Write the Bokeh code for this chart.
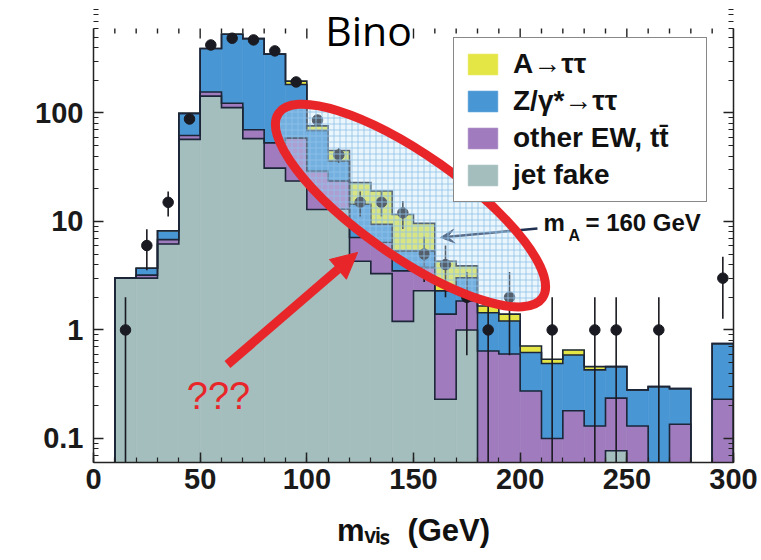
import numpy as np
from bokeh.plotting import figure
from bokeh.models import (LogAxis, FixedTicker, SingleIntervalTicker,
                          CustomJSTickFormatter, Legend, LegendItem, Label,
                          Arrow, NormalHead, VeeHead)
from bokeh.embed import file_html
from bokeh.resources import INLINE

# ---- data: visible di-tau mass, 10 GeV bins from 10 to 300 GeV ----
bin_low = np.arange(10, 300, 10)
bin_width = 10

jet_fake = [3.0, 3.0, 6.2, 57, 143, 112, 58, 31, 23.6, 12.9, 13.0, 4.3, 3.3, 1.2,
            2.3, 0.23, 1.0, 0, 0, 0, 0, 0, 0, 0.077, 0, 0, 0, 0, 0]
other_ew = [0, 0.2, 0.6, 5, 13, 11, 12, 22, 35, 16, 10.6, 2.8, 3.1, 2.3,
            1.45, 1.17, 0.85, 0.64, 0.60, 0.274, 0.10, 0.18, 0.13, 0.158, 0.13, 0, 0.135, 0, 0.23]
z_tautau = [0, 0.5, 1.4, 37, 236, 408, 414, 295, 124, 40, 12.4, 7.3, 3.0, 1.85,
            1.6, 0.89, 1.18, 0.80, 0.61, 0.346, 0.39, 0.408, 0.298, 0.224, 0.15, 0.30, 0.153, 0, 0.518]
a_tautau = [0, 0, 0, 0, 0, 0, 0, 0, 14, 7, 9, 8.4, 9.7, 6.25,
            4.25, 2.0, 0.86, 0.22, 0.19, 0.09, 0.047, 0.066, 0.031, 0, 0, 0, 0, 0, 0]
data_counts = [1, 6, 15, 88, 423, 488, 471, 373, 193, 86, 41, 15, 15, 12,
               5, 4, 2, 1, 2, 0, 1, 0, 1, 1, 0, 1, 0, 0, 3]

series_labels = ["jet fake", "other EW, tt\u0304", "Z/\u03b3*\u2192\u03c4\u03c4", "A\u2192\u03c4\u03c4"]
series_colors = ["#a3bebd", "#a07cbe", "#4896d4", "#e4e646"]

y_major = [0.1, 1, 10, 100]
y_major_labels = ["0.1", "1", "10", "100"]
y_minor = [m * 10.0 ** e for e in range(-2, 3) for m in range(2, 10)]

X_MIN, X_MAX = 0, 300
Y_MIN, Y_AXIS_TOP, Y_MAX = 0.06, 600, 1087   # axes end at 600; the space above holds the title
W, H = 761, 560
BORDER_L, BORDER_R, BORDER_T, BORDER_B = 93, 28, 0, 98

LINE = "#1c2638"
AXIS = "#222222"
RED = "#e8262a"
FLOOR = 1e-4

p = figure(width=W, height=H, x_range=(X_MIN, X_MAX), y_range=(Y_MIN, Y_MAX),
           y_axis_type="log", output_backend="svg", toolbar_location=None,
           min_border_left=BORDER_L, min_border_right=BORDER_R,
           min_border_top=BORDER_T, min_border_bottom=BORDER_B,
           background_fill_color="white", border_fill_color="white")
p.outline_line_color = None
p.grid.visible = False

# ---- axes ----
x_ticker = SingleIntervalTicker(interval=50, num_minor_ticks=5)
y_ticker = FixedTicker(ticks=y_major, minor_ticks=y_minor)
y_fmt = CustomJSTickFormatter(args=dict(major_vals=y_major, major_text=y_major_labels),
                              code="const i = major_vals.indexOf(tick); return i >= 0 ? major_text[i] : '';")
blank = CustomJSTickFormatter(code="return '';")

def style_axis(ax):
    ax.axis_line_color = AXIS
    ax.axis_line_width = 1.5
    ax.major_tick_line_color = AXIS
    ax.minor_tick_line_color = AXIS
    ax.major_tick_line_width = 1.5
    ax.minor_tick_line_width = 1.2
    ax.major_tick_in = 10
    ax.major_tick_out = 0
    ax.minor_tick_in = 5
    ax.minor_tick_out = 0
    ax.major_label_text_font = "Liberation Sans"
    ax.major_label_text_font_style = "bold"
    ax.major_label_text_font_size = "29px"
    ax.major_label_text_color = "#1a1a1a"

xa = p.xaxis[0]
xa.ticker = x_ticker
style_axis(xa)
xa.major_label_standoff = 6
xa.axis_label = "m\u1d65\u1d62\u209b\u00a0\u00a0(GeV)"
xa.axis_label_text_font = "Liberation Sans"
xa.axis_label_text_font_style = "bold"
xa.axis_label_text_font_size = "31px"
xa.axis_label_text_color = "#111111"
xa.axis_label_standoff = 21

ya = p.yaxis[0]
ya.ticker = y_ticker
ya.formatter = y_fmt
ya.bounds = (Y_MIN, Y_AXIS_TOP)
style_axis(ya)
ya.major_label_standoff = 10

right_ax = LogAxis(ticker=y_ticker, formatter=blank, bounds=(Y_MIN, Y_AXIS_TOP))
style_axis(right_ax)
p.add_layout(right_ax, "right")

# tick marks along the upper edge of the axes box (pointing down from y = 600)
frame_h = H - BORDER_T - BORDER_B
decade_px = frame_h / np.log10(Y_MAX / Y_MIN)
top_tick_x = np.arange(X_MIN, X_MAX + 1, 10)
top_tick_len = np.where(top_tick_x % 50 == 0, 10, 5)
p.segment(x0=top_tick_x, y0=np.full(len(top_tick_x), Y_AXIS_TOP),
          x1=top_tick_x, y1=Y_AXIS_TOP * 10.0 ** (-top_tick_len / decade_px),
          line_color=AXIS, line_width=1.4)

# ---- stacked histogram ----
lo = bin_low
hi = bin_low + bin_width
edges = np.append(lo, hi[-1])
stack = np.cumsum(np.array([jet_fake, other_ew, z_tautau, a_tautau], dtype=float), axis=0)

renderers = []
prev = np.zeros(len(lo))
for level, color in zip(stack, series_colors):
    r = p.quad(left=lo, right=hi, bottom=np.maximum(prev, FLOOR),
               top=np.maximum(level, FLOOR), fill_color=color,
               line_color=color, line_width=0.6)
    renderers.append(r)
    prev = level

for level in stack:
    xs = np.repeat(edges, 2)
    ys = np.concatenate([[FLOOR], np.repeat(np.maximum(level, FLOOR), 2), [FLOOR]])
    p.line(xs, ys, line_color=LINE, line_width=1.6, line_join="miter")

# ---- data points with sqrt(N) errors ----
counts = np.array(data_counts, dtype=float)
mask = counts > 0
cx = (lo + bin_width / 2)[mask]
cn = counts[mask]
err = np.sqrt(cn)
p.segment(x0=cx, y0=np.maximum(cn - err, FLOOR), x1=cx, y1=cn + err,
          line_color="#1a1a22", line_width=1.6)
p.scatter(cx, cn, size=10.5, fill_color="#1a1a22", line_color="#1a1a22")

# ---- highlighted region ----
p.ellipse(x=[148.6], y=[14.0], width=322, height=102,
          width_units="screen", height_units="screen",
          angle=-35, angle_units="deg",
          fill_color="#c6e2f7", fill_alpha=0.35,
          hatch_pattern="+", hatch_scale=6, hatch_color="#8ec0e8",
          hatch_alpha=0.8, hatch_weight=1,
          line_color=RED, line_width=9, level="overlay")

# ---- legend ----
legend = Legend(items=[LegendItem(label=series_labels[k], renderers=[renderers[k]])
                       for k in (3, 2, 1, 0)],
                location=(360, 260), orientation="vertical",
                glyph_width=37, glyph_height=26, label_width=183,
                label_standoff=12, spacing=5, padding=10, margin=0,
                label_text_font="Liberation Sans", label_text_font_style="bold",
                label_text_font_size="28px", label_text_color="#111111",
                border_line_color="#111111", border_line_width=1.6,
                background_fill_color="white", background_fill_alpha=1.0)
p.add_layout(legend)

# ---- annotations ----
p.add_layout(Arrow(end=VeeHead(size=14, fill_color="#1f3050", line_color="#1f3050"),
                   x_start=208.1, y_start=8.62, x_end=162.7, y_end=7.12,
                   line_color="#1f3050", line_width=2.5))

bold_txt = dict(text_font="Liberation Sans", text_font_style="bold",
                text_color="#111111", text_baseline="middle")
p.add_layout(Label(x=210.9, y=9.77, text="m", text_font_size="24px", **bold_txt))
p.add_layout(Label(x=222.7, y=7.42, text="A", text_font_size="16px", **bold_txt))
p.add_layout(Label(x=230.6, y=9.77, text="= 160 GeV", text_font_size="24px", **bold_txt))

p.add_layout(Arrow(end=NormalHead(size=26, fill_color=RED, line_color=RED, line_width=1),
                   x_start=62.8, y_start=0.48, x_end=123.8, y_end=5.18,
                   line_color=RED, line_width=9))
p.add_layout(Label(x=58.6, y=0.244, text="???", text_align="center",
                   text_baseline="middle", text_font="Liberation Sans",
                   text_font_size="38px", text_color=RED))

p.add_layout(Label(x=128.9, y=587, text="Bino", text_align="center",
                   text_baseline="middle", text_font="Open Sans",
                   text_font_size="41px", text_color="black",
                   background_fill_color="white"))

open("out.html", "w").write(file_html(p, INLINE))
